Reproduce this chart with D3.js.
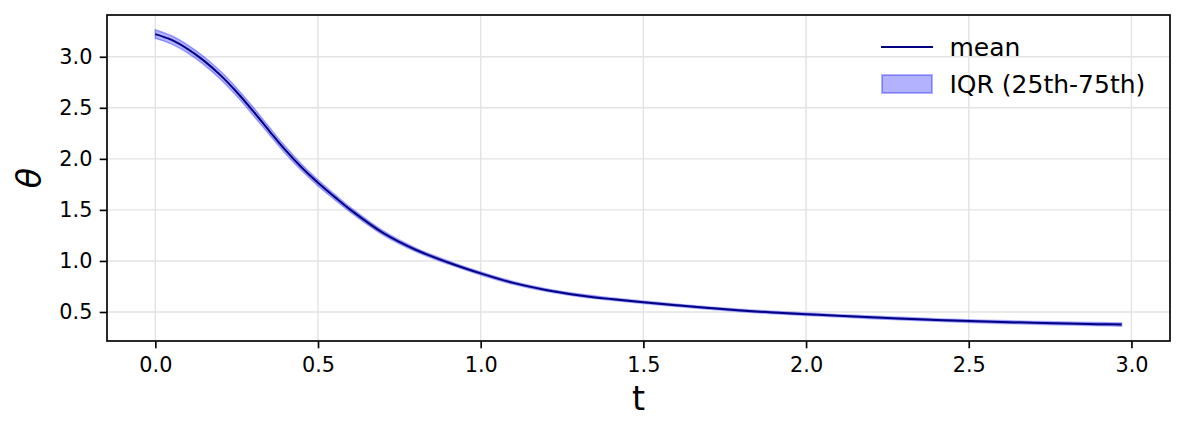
<!DOCTYPE html>
<html>
<head>
<meta charset="utf-8">
<script src="https://cdn.jsdelivr.net/npm/d3@7"></script>
<style>
	html, body { margin: 0; padding: 0; background: #fff; }
	svg text { font-family: "DejaVu Sans", sans-serif; fill: #000; }
</style>
</head>
<body>
<svg id="main-svg" width="1184" height="432"></svg>
<script>

var tValues = [ 0, 0.05, 0.1, 0.15, 0.2, 0.25, 0.3, 0.35, 0.4, 0.45, 0.5, 0.55, 0.6, 0.7, 0.8, 0.9,
	1.0, 1.1, 1.2, 1.3, 1.4, 1.5, 1.6, 1.7, 1.8, 1.9, 2.0, 2.1, 2.2, 2.3, 2.4, 2.5, 2.6, 2.7, 2.8, 2.9, 2.97 ];

var meanValues = [ 3.222, 3.165, 3.075, 2.96, 2.82, 2.655, 2.47, 2.275, 2.085, 1.915, 1.765, 1.63, 1.50, 1.275, 1.11, 0.985,
	0.878, 0.785, 0.716, 0.665, 0.627, 0.595, 0.566, 0.539, 0.515, 0.495, 0.478, 0.462, 0.448, 0.435, 0.422, 0.411, 0.402, 0.394, 0.387, 0.381, 0.377 ];

var q25Values = [ 3.180, 3.124, 3.035, 2.920, 2.780, 2.615, 2.430, 2.238, 2.050, 1.883, 1.735, 1.603, 1.475, 1.254, 1.092, 0.969,
	0.863, 0.771, 0.703, 0.652, 0.615, 0.583, 0.554, 0.527, 0.503, 0.483, 0.466, 0.450, 0.435, 0.422, 0.409, 0.397, 0.388, 0.380, 0.372, 0.366, 0.361 ];

var q75Values = [ 3.264, 3.206, 3.115, 3.000, 2.860, 2.695, 2.510, 2.312, 2.120, 1.947, 1.795, 1.657, 1.525, 1.296, 1.128, 1.001,
	0.893, 0.799, 0.729, 0.678, 0.639, 0.607, 0.578, 0.551, 0.527, 0.507, 0.490, 0.474, 0.461, 0.448, 0.435, 0.425, 0.416, 0.408, 0.402, 0.396, 0.393 ];

var xTicks = [ 0, 0.5, 1.0, 1.5, 2.0, 2.5, 3.0 ],
	yTicks = [ 0.5, 1.0, 1.5, 2.0, 2.5, 3.0 ],
	legendLabels = [ 'mean', 'IQR (25th-75th)' ];

var width = 1184,
	height = 432,
	margin = { top: 15, right: 14, bottom: 91, left: 107 },
	innerW = width - margin.left - margin.right,
	innerH = height - margin.top - margin.bottom;

var svg = d3.select( 'svg#main-svg' ),
	g = svg.append( 'g' ).attr( 'transform', 'translate(' + margin.left + ',' + margin.top + ')' );

// matplotlib style 5% margins
var xMin = d3.min( tValues ), xMax = d3.max( tValues ),
	yMin = d3.min( q25Values ), yMax = d3.max( q75Values ),
	xPad = ( xMax - xMin ) * 0.05,
	yPad = ( yMax - yMin ) * 0.05;

var x = d3.scaleLinear().domain( [ xMin - xPad, xMax + xPad ] ).range( [ 0, innerW ] ),
	y = d3.scaleLinear().domain( [ yMin - yPad, yMax + yPad ] ).range( [ innerH, 0 ] );

var rows = tValues.map( function( t, i ) {
	return { t: t, mean: meanValues[ i ], lo: q25Values[ i ], hi: q75Values[ i ] };
} );

// grid
g.append( 'g' ).selectAll( 'line' ).data( xTicks ).enter().append( 'line' )
	.attr( 'x1', function( d ) { return x( d ); } )
	.attr( 'x2', function( d ) { return x( d ); } )
	.attr( 'y1', 0 ).attr( 'y2', innerH )
	.attr( 'stroke', '#e3e3e3' ).attr( 'stroke-width', 1.4 );

g.append( 'g' ).selectAll( 'line' ).data( yTicks ).enter().append( 'line' )
	.attr( 'y1', function( d ) { return y( d ); } )
	.attr( 'y2', function( d ) { return y( d ); } )
	.attr( 'x1', 0 ).attr( 'x2', innerW )
	.attr( 'stroke', '#e3e3e3' ).attr( 'stroke-width', 1.4 );

// IQR band
var band = d3.area()
	.x( function( d ) { return x( d.t ); } )
	.y0( function( d ) { return y( d.lo ); } )
	.y1( function( d ) { return y( d.hi ); } )
	.curve( d3.curveCatmullRom.alpha( 0.5 ) );

g.append( 'path' )
	.datum( rows )
	.attr( 'd', band )
	.attr( 'fill', 'blue' ).attr( 'fill-opacity', 0.3 )
	.attr( 'stroke', 'blue' ).attr( 'stroke-opacity', 0.3 ).attr( 'stroke-width', 1.5 );

// mean line
var line = d3.line()
	.x( function( d ) { return x( d.t ); } )
	.y( function( d ) { return y( d.mean ); } )
	.curve( d3.curveCatmullRom.alpha( 0.5 ) );

g.append( 'path' )
	.datum( rows )
	.attr( 'd', line )
	.attr( 'fill', 'none' )
	.attr( 'stroke', 'navy' ).attr( 'stroke-width', 2 );

// axes
var xAxis = g.append( 'g' )
	.attr( 'transform', 'translate(0,' + innerH + ')' )
	.call( d3.axisBottom( x ).tickValues( xTicks ).tickFormat( d3.format( '.1f' ) ).tickSizeInner( 7.3 ).tickSizeOuter( 0 ).tickPadding( 9 ) );

var yAxis = g.append( 'g' )
	.call( d3.axisLeft( y ).tickValues( yTicks ).tickFormat( d3.format( '.1f' ) ).tickSizeInner( 7.3 ).tickSizeOuter( 0 ).tickPadding( 7.3 ) );

[ xAxis, yAxis ].forEach( function( ax ) {
	ax.attr( 'font-size', 20.8 ).attr( 'font-family', '"DejaVu Sans", sans-serif' );
	ax.select( '.domain' ).remove();
	ax.selectAll( '.tick line' ).attr( 'stroke', '#000' ).attr( 'stroke-width', 1.67 );
	ax.selectAll( '.tick text' ).style( 'font-size', '20.8px' );
} );

// frame
g.append( 'rect' )
	.attr( 'x', 0 ).attr( 'y', 0 )
	.attr( 'width', innerW ).attr( 'height', innerH )
	.attr( 'fill', 'none' ).attr( 'stroke', '#000' ).attr( 'stroke-width', 1.67 );

// axis labels
svg.append( 'text' )
	.attr( 'x', margin.left + innerW / 2 ).attr( 'y', 410 )
	.attr( 'text-anchor', 'middle' )
	.style( 'font-size', '33.3px' )
	.text( 't' );

svg.append( 'text' )
	.attr( 'transform', 'translate(41,' + ( margin.top + innerH / 2 ) + ') rotate(-90)' )
	.attr( 'text-anchor', 'middle' )
	.style( 'font-size', '33.3px' ).style( 'font-style', 'italic' )
	.text( 'θ' );

// legend
var legend = svg.append( 'g' );

legend.append( 'line' )
	.attr( 'x1', 881 ).attr( 'x2', 933 ).attr( 'y1', 47 ).attr( 'y2', 47 )
	.attr( 'stroke', 'navy' ).attr( 'stroke-width', 2 );

legend.append( 'rect' )
	.attr( 'x', 882 ).attr( 'y', 75 ).attr( 'width', 50 ).attr( 'height', 18 )
	.attr( 'fill', 'blue' ).attr( 'fill-opacity', 0.3 )
	.attr( 'stroke', 'blue' ).attr( 'stroke-opacity', 0.3 ).attr( 'stroke-width', 2 );

legend.selectAll( 'text.lbl' ).data( legendLabels ).enter().append( 'text' )
	.attr( 'class', 'lbl' )
	.attr( 'x', 949.5 )
	.attr( 'y', function( d, i ) { return 56 + i * 36.8; } )
	.style( 'font-size', '25px' )
	.text( function( d ) { return d; } );

</script>
</body>
</html>
